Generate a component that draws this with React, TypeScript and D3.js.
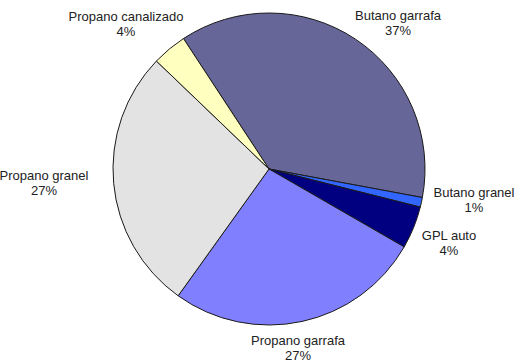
import React from "react";
import * as d3 from "d3";

const categories = ["Butano garrafa", "Butano granel", "GPL auto", "Propano garrafa", "Propano granel", "Propano canalizado"];
const values = [37.2, 1.0, 4.4, 26.6, 27.3, 3.6];
const percentLabels = ["37%", "1%", "4%", "27%", "27%", "4%"];
const colors = ["#666699", "#3366FF", "#000080", "#8080FF", "#E3E3E3", "#FFFFC0"];

// label anchor positions (layout, not data)
const labelPos: [number, number][] = [
  [398, 20],
  [474, 197],
  [449, 240],
  [298, 345],
  [44, 180],
  [126, 21],
];

const W = 518, H = 361;
const cx = 269, cy = 169, R = 156;
const startDeg = -33.25;

export default function App() {
  const pie = d3
    .pie<number>()
    .sort(null)
    .value((d) => d)
    .startAngle((startDeg * Math.PI) / 180)
    .endAngle((startDeg * Math.PI) / 180 + 2 * Math.PI);
  const arcs = pie(values);
  const arc = d3.arc<d3.PieArcDatum<number>>().innerRadius(0).outerRadius(R);
  return (
    <svg width={W} height={H} style={{ position: "absolute", left: 0, top: 0, background: "#fff" }}>
      <g transform={`translate(${cx},${cy})`}>
        {arcs.map((a, i) => (
          <path key={i} d={arc(a) || ""} fill={colors[i]} stroke="#1a1a1a" strokeWidth={1} strokeLinejoin="round" />
        ))}
      </g>
      {categories.map((c, i) => (
        <text key={c} x={labelPos[i][0]} y={labelPos[i][1]} textAnchor="middle" fontFamily="'Liberation Sans', Arial, sans-serif" fontSize={13} fill="#222">
          <tspan x={labelPos[i][0]} dy={0}>{c}</tspan>
          <tspan x={labelPos[i][0]} dy={14.5}>{percentLabels[i]}</tspan>
        </text>
      ))}
    </svg>
  );
}
